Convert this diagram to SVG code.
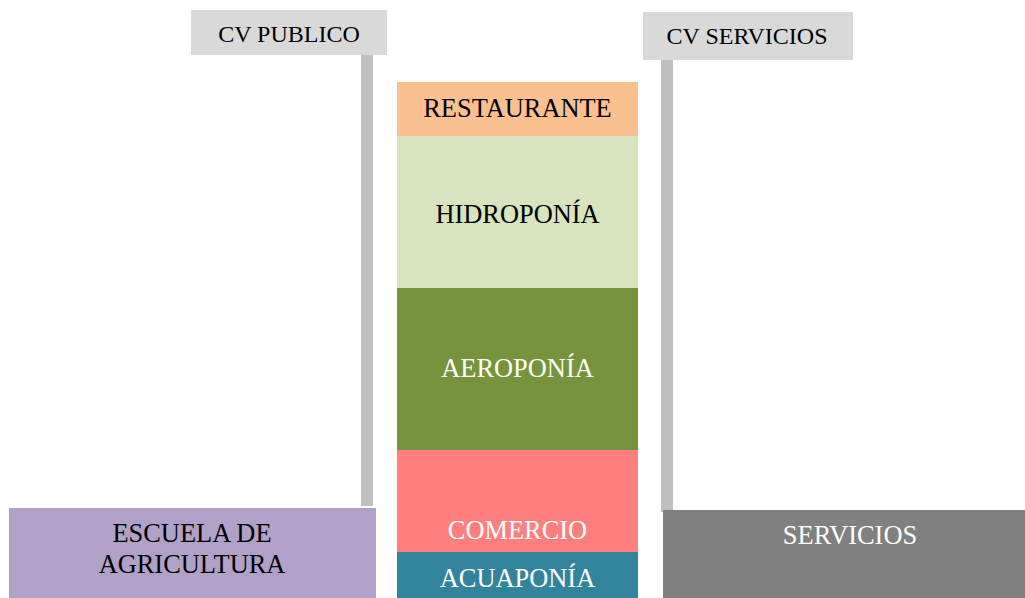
<svg xmlns="http://www.w3.org/2000/svg" width="1025" height="598" viewBox="0 0 1025 598">
<style>
text{font-family:"Liberation Serif","Times New Roman",serif;text-anchor:middle}
.l{font-size:24px;fill:#000}
.b{font-size:26.4px;fill:#000}
.w{font-size:26.4px;fill:#fff}
.cv{fill:#d9d9d9}
.bar{fill:#bfbfbf}
</style>
<rect width="1025" height="598" fill="#fff"/>
<g id="connectors">
<rect class="bar" x="361" y="55" width="12" height="451"/>
<rect class="bar" x="661" y="60" width="12" height="452"/>
</g>
<g id="cv-publico"><rect class="cv" x="191" y="10" width="196" height="45"/><text class="l" x="289" y="42">CV PUBLICO</text></g>
<g id="cv-servicios"><rect class="cv" x="643" y="12" width="210" height="48"/><text class="l" x="747" y="44">CV SERVICIOS</text></g>
<g id="restaurante"><rect x="397" y="82" width="241" height="54" fill="#fac090"/><text class="b" x="517.5" y="117">RESTAURANTE</text></g>
<g id="hidroponia"><rect x="397" y="136" width="241" height="152" fill="#d7e4bd"/><text class="b" x="517.5" y="223">HIDROPONÍA</text></g>
<g id="aeroponia"><rect x="397" y="288" width="241" height="162" fill="#77933c"/><text class="w" x="517.5" y="377">AEROPONÍA</text></g>
<g id="comercio"><rect x="397" y="450" width="241" height="102" fill="#ff7f7f"/><text class="w" x="517.5" y="539">COMERCIO</text></g>
<g id="acuaponia"><rect x="397" y="552" width="241" height="46" fill="#31849b"/><text class="w" x="517.5" y="587">ACUAPONÍA</text></g>
<g id="escuela"><rect x="9" y="508" width="367" height="90" fill="#b2a1c7"/><text class="b" x="192" y="542">ESCUELA DE</text><text class="b" x="192" y="573">AGRICULTURA</text></g>
<g id="servicios"><rect x="663" y="510" width="362" height="88" fill="#808080"/><text class="w" x="850" y="544">SERVICIOS</text></g>
</svg>
